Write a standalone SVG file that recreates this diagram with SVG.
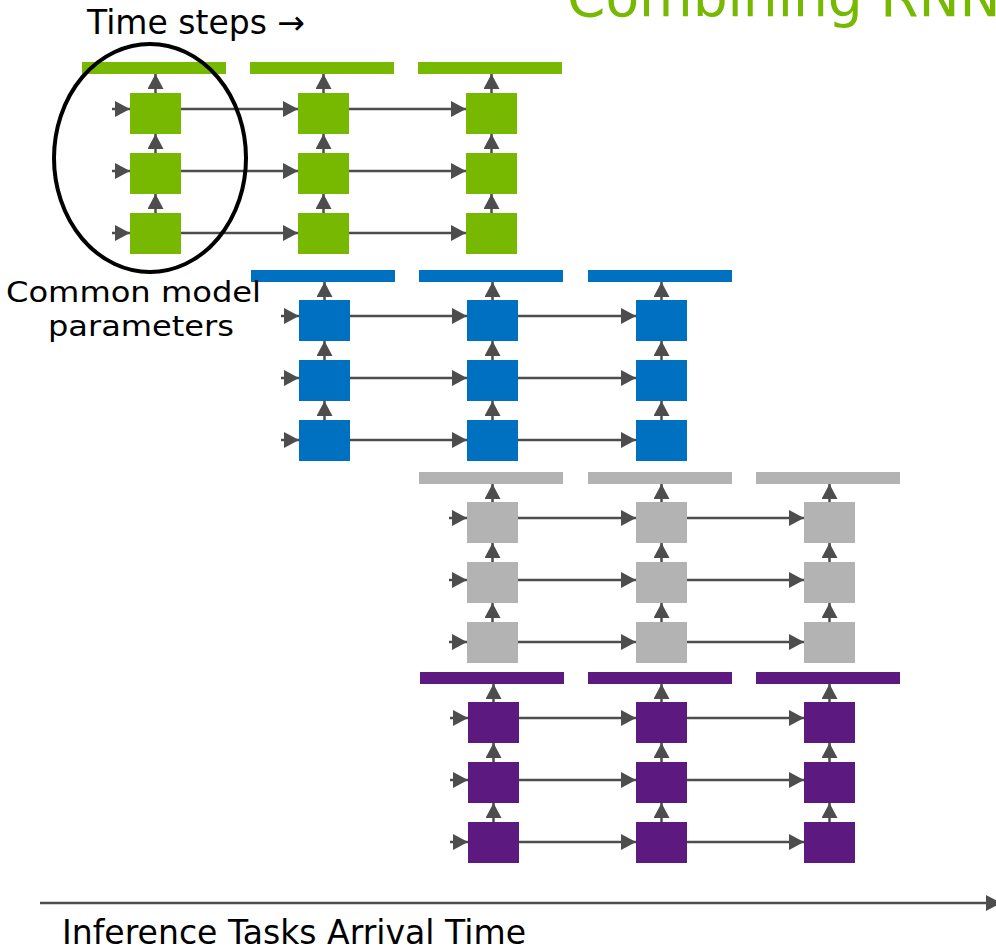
<svg xmlns="http://www.w3.org/2000/svg" width="996" height="951" viewBox="0 0 996 951">
<defs>
<style>
.t{font-family:"DejaVu Sans","Liberation Sans",sans-serif;fill:#000}
.g{fill:#76b900}.b{fill:#0070c0}.y{fill:#b3b3b3}.p{fill:#5c1a80}
.c line{stroke:#4d4d4d;stroke-width:2.5;marker-end:url(#ah)}
</style>
<marker id="ah" markerUnits="userSpaceOnUse" markerWidth="15" markerHeight="16" refX="15" refY="8" orient="auto"><path d="M0,0 L15,8 L0,16 Z" fill="#4d4d4d"/></marker>
</defs>
<rect width="996" height="951" fill="#fff"/>
<text x="567" y="16" font-family="'DejaVu Sans','Liberation Sans',sans-serif" font-size="55" fill="#76b900">Combining RNN</text>

<g id="green">
<g id="g-bar1"><rect class="g" x="82" y="62" width="144" height="12"/></g>
<g id="g-bar2"><rect class="g" x="250" y="62" width="144" height="12"/></g>
<g id="g-bar3"><rect class="g" x="418" y="62" width="144" height="12"/></g>
<g id="g-1-1"><rect class="g" x="130" y="93" width="51" height="41"/></g>
<g id="g-1-2"><rect class="g" x="130" y="153" width="51" height="41"/></g>
<g id="g-1-3"><rect class="g" x="130" y="213" width="51" height="41"/></g>
<g id="g-2-1"><rect class="g" x="298" y="93" width="51" height="41"/></g>
<g id="g-2-2"><rect class="g" x="298" y="153" width="51" height="41"/></g>
<g id="g-2-3"><rect class="g" x="298" y="213" width="51" height="41"/></g>
<g id="g-3-1"><rect class="g" x="466" y="93" width="51" height="41"/></g>
<g id="g-3-2"><rect class="g" x="466" y="153" width="51" height="41"/></g>
<g id="g-3-3"><rect class="g" x="466" y="213" width="51" height="41"/></g>
</g>

<g id="blue">
<g id="b-bar1"><rect class="b" x="251" y="270" width="144" height="12"/></g>
<g id="b-bar2"><rect class="b" x="419" y="270" width="144" height="12"/></g>
<g id="b-bar3"><rect class="b" x="588" y="270" width="144" height="12"/></g>
<g id="b-1-1"><rect class="b" x="299" y="300" width="51" height="41"/></g>
<g id="b-1-2"><rect class="b" x="299" y="360" width="51" height="41"/></g>
<g id="b-1-3"><rect class="b" x="299" y="420" width="51" height="41"/></g>
<g id="b-2-1"><rect class="b" x="467" y="300" width="51" height="41"/></g>
<g id="b-2-2"><rect class="b" x="467" y="360" width="51" height="41"/></g>
<g id="b-2-3"><rect class="b" x="467" y="420" width="51" height="41"/></g>
<g id="b-3-1"><rect class="b" x="636" y="300" width="51" height="41"/></g>
<g id="b-3-2"><rect class="b" x="636" y="360" width="51" height="41"/></g>
<g id="b-3-3"><rect class="b" x="636" y="420" width="51" height="41"/></g>
</g>

<g id="gray">
<g id="y-bar1"><rect class="y" x="419" y="472" width="144" height="12"/></g>
<g id="y-bar2"><rect class="y" x="588" y="472" width="144" height="12"/></g>
<g id="y-bar3"><rect class="y" x="756" y="472" width="144" height="12"/></g>
<g id="y-1-1"><rect class="y" x="467" y="502" width="51" height="41"/></g>
<g id="y-1-2"><rect class="y" x="467" y="562" width="51" height="41"/></g>
<g id="y-1-3"><rect class="y" x="467" y="622" width="51" height="41"/></g>
<g id="y-2-1"><rect class="y" x="636" y="502" width="51" height="41"/></g>
<g id="y-2-2"><rect class="y" x="636" y="562" width="51" height="41"/></g>
<g id="y-2-3"><rect class="y" x="636" y="622" width="51" height="41"/></g>
<g id="y-3-1"><rect class="y" x="804" y="502" width="51" height="41"/></g>
<g id="y-3-2"><rect class="y" x="804" y="562" width="51" height="41"/></g>
<g id="y-3-3"><rect class="y" x="804" y="622" width="51" height="41"/></g>
</g>

<g id="purple">
<g id="p-bar1"><rect class="p" x="420" y="672" width="144" height="12"/></g>
<g id="p-bar2"><rect class="p" x="588" y="672" width="144" height="12"/></g>
<g id="p-bar3"><rect class="p" x="756" y="672" width="144" height="12"/></g>
<g id="p-1-1"><rect class="p" x="468" y="702" width="51" height="41"/></g>
<g id="p-1-2"><rect class="p" x="468" y="762" width="51" height="41"/></g>
<g id="p-1-3"><rect class="p" x="468" y="822" width="51" height="41"/></g>
<g id="p-2-1"><rect class="p" x="636" y="702" width="51" height="41"/></g>
<g id="p-2-2"><rect class="p" x="636" y="762" width="51" height="41"/></g>
<g id="p-2-3"><rect class="p" x="636" y="822" width="51" height="41"/></g>
<g id="p-3-1"><rect class="p" x="804" y="702" width="51" height="41"/></g>
<g id="p-3-2"><rect class="p" x="804" y="762" width="51" height="41"/></g>
<g id="p-3-3"><rect class="p" x="804" y="822" width="51" height="41"/></g>
</g>

<g id="connectors" class="c">
<!-- green -->
<line x1="112" y1="109" x2="130" y2="109"/><line x1="112" y1="171" x2="130" y2="171"/><line x1="112" y1="233" x2="130" y2="233"/>
<line x1="181" y1="109" x2="298" y2="109"/><line x1="181" y1="171" x2="298" y2="171"/><line x1="181" y1="233" x2="298" y2="233"/>
<line x1="349" y1="109" x2="466" y2="109"/><line x1="349" y1="171" x2="466" y2="171"/><line x1="349" y1="233" x2="466" y2="233"/>
<line x1="155.5" y1="93" x2="155.5" y2="74"/><line x1="155.5" y1="153" x2="155.5" y2="134"/><line x1="155.5" y1="213" x2="155.5" y2="194"/>
<line x1="323.5" y1="93" x2="323.5" y2="74"/><line x1="323.5" y1="153" x2="323.5" y2="134"/><line x1="323.5" y1="213" x2="323.5" y2="194"/>
<line x1="491.5" y1="93" x2="491.5" y2="74"/><line x1="491.5" y1="153" x2="491.5" y2="134"/><line x1="491.5" y1="213" x2="491.5" y2="194"/>
<!-- blue -->
<line x1="281" y1="316" x2="299" y2="316"/><line x1="281" y1="378" x2="299" y2="378"/><line x1="281" y1="440" x2="299" y2="440"/>
<line x1="350" y1="316" x2="467" y2="316"/><line x1="350" y1="378" x2="467" y2="378"/><line x1="350" y1="440" x2="467" y2="440"/>
<line x1="518" y1="316" x2="636" y2="316"/><line x1="518" y1="378" x2="636" y2="378"/><line x1="518" y1="440" x2="636" y2="440"/>
<line x1="324.5" y1="300" x2="324.5" y2="282"/><line x1="324.5" y1="360" x2="324.5" y2="341"/><line x1="324.5" y1="420" x2="324.5" y2="401"/>
<line x1="492.5" y1="300" x2="492.5" y2="282"/><line x1="492.5" y1="360" x2="492.5" y2="341"/><line x1="492.5" y1="420" x2="492.5" y2="401"/>
<line x1="661.5" y1="300" x2="661.5" y2="282"/><line x1="661.5" y1="360" x2="661.5" y2="341"/><line x1="661.5" y1="420" x2="661.5" y2="401"/>
<!-- gray -->
<line x1="449" y1="518" x2="467" y2="518"/><line x1="449" y1="580" x2="467" y2="580"/><line x1="449" y1="642" x2="467" y2="642"/>
<line x1="518" y1="518" x2="636" y2="518"/><line x1="518" y1="580" x2="636" y2="580"/><line x1="518" y1="642" x2="636" y2="642"/>
<line x1="687" y1="518" x2="804" y2="518"/><line x1="687" y1="580" x2="804" y2="580"/><line x1="687" y1="642" x2="804" y2="642"/>
<line x1="492.5" y1="502" x2="492.5" y2="484"/><line x1="492.5" y1="562" x2="492.5" y2="543"/><line x1="492.5" y1="622" x2="492.5" y2="603"/>
<line x1="661.5" y1="502" x2="661.5" y2="484"/><line x1="661.5" y1="562" x2="661.5" y2="543"/><line x1="661.5" y1="622" x2="661.5" y2="603"/>
<line x1="829.5" y1="502" x2="829.5" y2="484"/><line x1="829.5" y1="562" x2="829.5" y2="543"/><line x1="829.5" y1="622" x2="829.5" y2="603"/>
<!-- purple -->
<line x1="450" y1="718" x2="468" y2="718"/><line x1="450" y1="780" x2="468" y2="780"/><line x1="450" y1="842" x2="468" y2="842"/>
<line x1="519" y1="718" x2="636" y2="718"/><line x1="519" y1="780" x2="636" y2="780"/><line x1="519" y1="842" x2="636" y2="842"/>
<line x1="687" y1="718" x2="804" y2="718"/><line x1="687" y1="780" x2="804" y2="780"/><line x1="687" y1="842" x2="804" y2="842"/>
<line x1="493.5" y1="702" x2="493.5" y2="684"/><line x1="493.5" y1="762" x2="493.5" y2="743"/><line x1="493.5" y1="822" x2="493.5" y2="803"/>
<line x1="661.5" y1="702" x2="661.5" y2="684"/><line x1="661.5" y1="762" x2="661.5" y2="743"/><line x1="661.5" y1="822" x2="661.5" y2="803"/>
<line x1="829.5" y1="702" x2="829.5" y2="684"/><line x1="829.5" y1="762" x2="829.5" y2="743"/><line x1="829.5" y1="822" x2="829.5" y2="803"/>
<!-- time axis -->
<line x1="40" y1="903" x2="1001" y2="903" stroke-width="3"/>
</g>

<g id="common-params">
<ellipse cx="150" cy="158" rx="96" ry="114" fill="none" stroke="#000" stroke-width="4"/>
<text class="t" x="6" y="302" font-size="29" textLength="255" lengthAdjust="spacingAndGlyphs">Common model</text>
<text class="t" x="48" y="336" font-size="29" textLength="186" lengthAdjust="spacingAndGlyphs">parameters</text>
</g>
<text class="t" x="87" y="34" font-size="33" textLength="218" lengthAdjust="spacingAndGlyphs">Time steps →</text>
<text class="t" x="62" y="944" font-size="33" textLength="464" lengthAdjust="spacingAndGlyphs">Inference Tasks Arrival Time</text>
</svg>
